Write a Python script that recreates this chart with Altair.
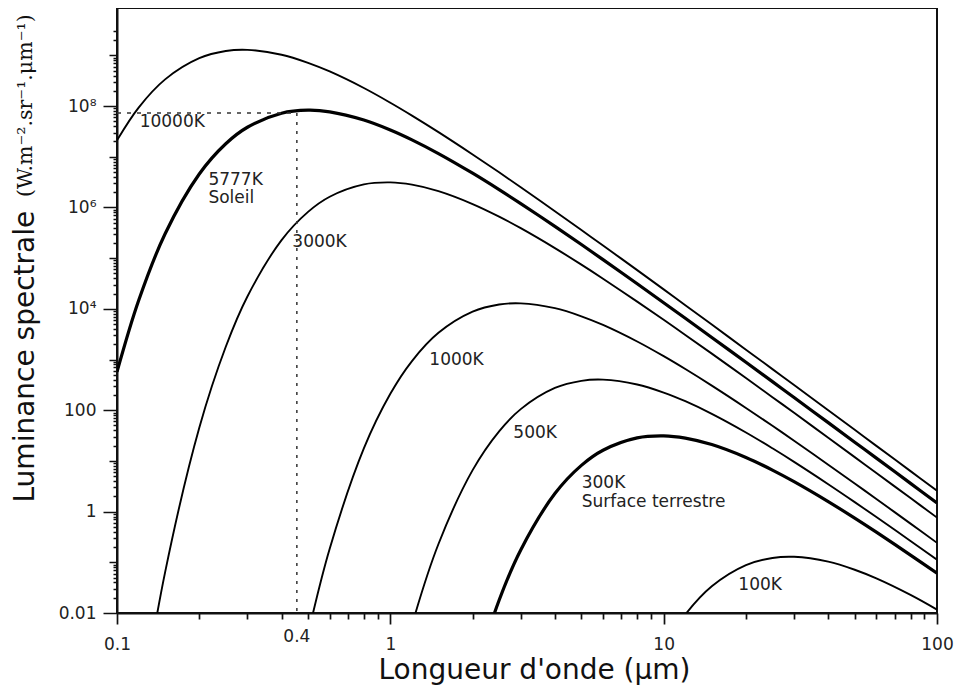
import altair as alt
import pandas as pd

# ---------------- data ----------------
wavelengths = [0.1, 0.12, 0.15, 0.2, 0.25, 0.3, 0.4, 0.5, 0.6, 0.8,
               1, 1.2, 1.5, 2, 2.5, 3, 4, 5, 6, 8,
               10, 12, 15, 20, 25, 30, 40, 50, 60, 80, 100]

m10000 = [2.11e7, 9.34e7, 3.36e8, 8.79e8, 1.217e9, 1.283e9, 1.03e9, 7.13e8, 4.81e8, 2.27e8,
          1.164e8, 6.49e7, 3.06e7, 1.11e7, 4.93e6, 2.5e6, 8.44e5, 3.59e5, 1.776e5, 5.8e4,
          2.42e4, 1.181e4, 4890, 1567, 647, 313.5, 99.8, 41.0, 19.8, 6.29, 2.58]
m5777 = [571, 1.457e4, 3.03e5, 4.57e6, 1.807e7, 3.82e7, 7.24e7, 8.28e7, 7.7e7, 5.31e7,
         3.38e7, 2.158e7, 1.156e7, 4.73e6, 2.244e6, 1.19e6, 4.23e5, 1.854e5, 9.35e4, 3.13e4,
         1.323e4, 6520, 2730, 882, 366, 178, 56.9, 23.4, 11.35, 3.61, 1.484]
m3000 = [None, 6.6e-5, 0.0641, 45.1, 1786, 1.756e4, 2.268e5, 8.17e5, 1.626e6, 2.85e6,
         3.12e6, 2.815e6, 2.1e6, 1.169e6, 6.6e5, 3.9e5, 1.577e5, 7.44e4, 3.93e4, 1.39e4,
         6080, 3060, 1308, 431, 181, 88.8, 28.7, 11.89, 5.78, 1.85, 0.762]
m1000 = [None, None, None, None, None, None, None, 0.00381, 0.1855, 17.65,
         211, 934, 3364, 8786, 1.217e4, 1.283e4, 1.03e4, 7134, 4812, 2266,
         1164, 649, 306, 111, 49.3, 25.0, 8.44, 3.59, 1.776, 0.58, 0.242]
m500 = [None, None, None, None, None, None, None, None, None, None,
        1.19e-4, 0.0058, 0.2296, 6.59, 38.4, 105.1, 274.6, 380, 401, 322,
        223, 150.4, 84.8, 36.4, 17.73, 9.57, 3.47, 1.539, 0.782, 0.264, 0.1122]
m300 = [None, None, None, None, None, None, None, None, None, None,
        None, None, None, 4.51e-4, 0.01786, 0.1756, 2.268, 8.17, 16.26, 28.5,
        31.2, 28.15, 21.0, 11.69, 6.6, 3.9, 1.577, 0.744, 0.393, 0.139, 0.0608]
m100 = [None, None, None, None, None, None, None, None, None, None,
        None, None, None, None, None, None, None, None, None, None,
        0.00211, 0.00934, 0.0336, 0.0879, 0.1217, 0.1283, 0.103, 0.0713, 0.0481, 0.0227, 0.01164]

curve_names = ["10000K", "5777K", "3000K", "1000K", "500K", "300K", "100K"]
curve_values = [m10000, m5777, m3000, m1000, m500, m300, m100]
thick_curves = ["5777K", "300K"]

label_texts = ["10000K", "5777K", "Soleil", "3000K", "1000K", "500K", "300K", "Surface terrestre", "100K"]
label_wl = [0.121, 0.216, 0.216, 0.438, 1.389, 2.818, 5.015, 5.015, 18.76]
label_val = [4.8e7, 3.5e6, 1.52e6, 2.05e5, 960, 35, 3.6, 1.56, 0.036]

marker_wl = 0.455
marker_level = 7.3e7
marker_text = "0.4"

x_tick_values = [0.1, 0.2, 0.3, 0.4, 0.5, 0.6, 0.7, 0.8, 0.9,
                 1, 2, 3, 4, 5, 6, 7, 8, 9,
                 10, 20, 30, 40, 50, 60, 70, 80, 90, 100]
x_label_values = [0.1, 1, 10, 100]
x_label_texts = ["0.1", "1", "10", "100"]

y_tick_values = [k * 10.0 ** d for d in range(-2, 10) for k in range(1, 10)
                 if k * 10.0 ** d <= 3.1e9]
y_label_values = [0.01, 1, 100, 1e4, 1e6, 1e8]
y_label_texts = ["0.01", "1", "100", "10⁴", "10⁶", "10⁸"]
y_mid_values = [0.1, 10, 1000, 1e5, 1e7, 1e9]

# ---------------- tables ----------------
rows = []
for name, vals in zip(curve_names, curve_values):
    for w, v in zip(wavelengths, vals):
        if v is not None:
            rows.append({"wl": w, "val": v, "curve": name})
curves = pd.DataFrame(rows)

labels = pd.DataFrame({"wl": label_wl, "val": label_val, "txt": label_texts})


def match(vals):
    return " || ".join(f"abs(datum.value/{v} - 1) < 1e-6" for v in vals)


def label_expr(vals, texts):
    e = "''"
    for v, t in reversed(list(zip(vals, texts))):
        e = f"abs(datum.value/{v} - 1) < 1e-6 ? '{t}' : ({e})"
    return e


FONT = "DejaVu Sans"

x_scale = alt.Scale(type="log", domain=[0.1, 100], nice=False)
y_scale = alt.Scale(type="log", domain=[0.01, 8.6e9], nice=False)

x_axis = alt.Axis(
    values=x_tick_values,
    labelExpr=label_expr(x_label_values, x_label_texts),
    tickSize={"condition": {"test": match(x_label_values), "value": 11}, "value": 6},
    tickWidth=1.7, tickColor="#111", domainColor="#111", domainWidth=2,
    labelFont=FONT, labelFontSize=17, labelColor="#222", labelPadding=12,
    labelFlush=False, labelOverlap=False, grid=False,
    title="Longueur d'onde (μm)", titleFont=FONT, titleFontSize=28,
    titleFontWeight="normal", titleColor="#111",
    titleAlign="center", titleBaseline="alphabetic", titleX=417, titleY=65,
)
y_axis = alt.Axis(
    values=y_tick_values,
    labelExpr=label_expr(y_label_values, y_label_texts),
    tickSize={"condition": [{"test": match(y_label_values), "value": 14},
                            {"test": match(y_mid_values), "value": 8}],
              "value": 4},
    tickWidth=1.5, tickColor="#111", domainColor="#111", domainWidth=2,
    labelFont=FONT, labelFontSize=17, labelColor="#222", labelPadding=7,
    labelFlush=False, labelOverlap=False, grid=False,
    title="Luminance spectrale", titleFont=FONT, titleFontSize=28,
    titleFontWeight="normal", titleColor="#111", titleAngle=270,
    titleAlign="left", titleBaseline="alphabetic", titleX=-84, titleY=494,
)

X = alt.X("wl:Q", scale=x_scale, axis=x_axis)
Y = alt.Y("val:Q", scale=y_scale, axis=y_axis)

thick_test = "indexof([" + ",".join(f"'{c}'" for c in thick_curves) + "], datum.curve) >= 0"

thin = alt.Chart(curves).transform_filter("!(" + thick_test + ")").mark_line(
    interpolate="catmull-rom", clip=True, color="black", strokeWidth=1.9
).encode(x=X, y=Y, detail="curve:N")

thick = alt.Chart(curves).transform_filter(thick_test).mark_line(
    interpolate="catmull-rom", clip=True, color="black", strokeWidth=3.2
).encode(x=X, y=Y, detail="curve:N")

hline = alt.Chart(pd.DataFrame({"wl": [0.1], "wl2": [marker_wl], "val": [marker_level]})).mark_rule(
    strokeDash=[4, 6], color="#333", strokeWidth=1.3
).encode(x=X, x2="wl2:Q", y=Y)

vline = alt.Chart(pd.DataFrame({"wl": [marker_wl], "val": [marker_level], "val2": [0.01]})).mark_rule(
    strokeDash=[3, 6], color="#333", strokeWidth=1.5
).encode(x=X, y=Y, y2="val2:Q")

texts = alt.Chart(labels).mark_text(
    align="left", baseline="middle", font=FONT, fontSize=17, color="#222"
).encode(x=X, y=Y, text="txt:N")

tick04 = alt.Chart(pd.DataFrame({"wl": [marker_wl], "txt": [marker_text]})).mark_text(
    align="center", baseline="middle", font=FONT, fontSize=17, color="#222"
).encode(x=X, y=alt.value(629), text="txt:N")

unit = alt.Chart(pd.DataFrame({"txt": ["(W.m⁻².sr⁻¹.μm⁻¹)"]})).mark_text(
    angle=270, align="left", baseline="alphabetic", font="DejaVu Serif",
    fontSize=20.5, color="#111"
).encode(x=alt.value(-85), y=alt.value(189), text="txt:N")

chart = alt.layer(thin, thick, hline, vline, texts, tick04, unit).properties(
    width=820, height=605,
    autosize=alt.AutoSizeParams(type="none"),
    padding={"left": 109, "top": 0, "right": 19, "bottom": 74},
    background="white",
).configure_view(stroke="#111", strokeWidth=2)

chart.save("out.html", embed_options={"renderer": "svg", "actions": False})
